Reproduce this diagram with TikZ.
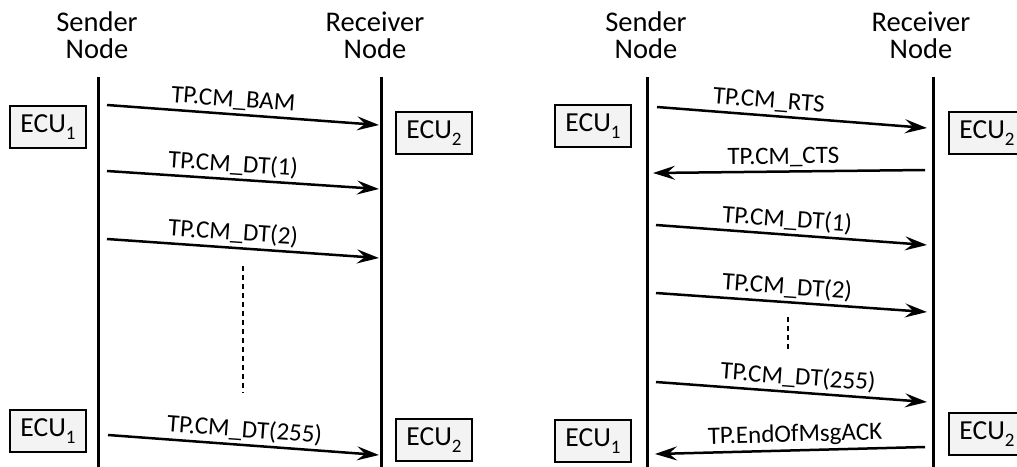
\documentclass[tikz,border=0pt]{standalone}
\usepackage{fontspec}
\setmainfont{Carlito}
\usetikzlibrary{arrows.meta}
\definecolor{ecufill}{HTML}{F3F3F3}
\newcommand{\ecusub}[1]{\raisebox{-0.28em}{\fontsize{19}{19}\selectfont #1}}
\tikzset{
  lifeline/.style={line width=3pt},
  msg/.style={line width=2.5pt, -{Stealth[length=22pt,width=14pt,inset=8pt]}},
  msglabel/.style={font=\fontsize{25}{26}\selectfont, sloped, above, inner sep=3pt},
  ecubox/.style={draw, line width=1.4pt, fill=ecufill, minimum width=76pt, minimum height=42pt, inner sep=0pt, font=\fontsize{27.5}{28}\selectfont},
  header/.style={font=\fontsize{28.5}{27}\selectfont, align=center, anchor=north, inner sep=0pt},
  gapline/.style={line width=2.6pt, dash pattern=on 5pt off 4pt}
}
\begin{document}
\begin{tikzpicture}[x=1pt,y=-1pt]
\useasboundingbox (0,0) rectangle (1017,466);
\clip (0,0) rectangle (1017,466);

% ---------- left panel ----------
\node[header] (lsend) at (97,12) {Sender\\Node};
\node[header] (lrecv) at (375,12) {Receiver\\Node};
\coordinate (lsTop) at (98,77);
\coordinate (lsBot) at (98,470);
\coordinate (lrTop) at (381,77);
\coordinate (lrBot) at (381,470);
\draw[lifeline] (lsTop) -- (lsBot);
\draw[lifeline] (lrTop) -- (lrBot);

\node[ecubox] (lecu1a) at (48,127) {ECU\ecusub{1}};
\node[ecubox] (lecu1b) at (48,431) {ECU\ecusub{1}};
\node[ecubox] (lecu2a) at (434,133) {ECU\ecusub{2}};
\node[ecubox] (lecu2b) at (434,440) {ECU\ecusub{2}};

\coordinate (a1s) at (107,105); \coordinate (a1e) at (379,125);
\coordinate (a2s) at (107,171); \coordinate (a2e) at (379,189);
\coordinate (a3s) at (107,239); \coordinate (a3e) at (379,258);
\coordinate (a4s) at (108,435); \coordinate (a4e) at (379,455);
\draw[msg] (a1s) -- node[msglabel, pos=0.46] {TP.CM\_BAM} (a1e);
\draw[msg] (a2s) -- node[msglabel, pos=0.46] {TP.CM\_DT(1)} (a2e);
\draw[msg] (a3s) -- node[msglabel, pos=0.46] {TP.CM\_DT(2)} (a3e);
\draw[msg] (a4s) -- node[msglabel, pos=0.5] {TP.CM\_DT(255)} (a4e);
\coordinate (ldTop) at (243,266); \coordinate (ldBot) at (243,393);
\draw[gapline] (ldTop) -- (ldBot);

% ---------- right panel ----------
\node[header] (rsend) at (646,12) {Sender\\Node};
\node[header] (rrecv) at (921,12) {Receiver\\Node};
\coordinate (rsTop) at (647,77);
\coordinate (rsBot) at (647,470);
\coordinate (rrTop) at (933,77);
\coordinate (rrBot) at (933,470);
\draw[lifeline] (rsTop) -- (rsBot);
\draw[lifeline] (rrTop) -- (rrBot);

\node[ecubox] (recu1a) at (593,126) {ECU\ecusub{1}};
\node[ecubox] (recu1b) at (593,441) {ECU\ecusub{1}};
\node[ecubox] (recu2a) at (987,133) {ECU\ecusub{2}};
\node[ecubox] (recu2b) at (987,434) {ECU\ecusub{2}};

\coordinate (b1s) at (657,107); \coordinate (b1e) at (927,128);
\coordinate (b2s) at (925,170); \coordinate (b2e) at (653,173);
\coordinate (b3s) at (656,225); \coordinate (b3e) at (927,245);
\coordinate (b4s) at (656,293); \coordinate (b4e) at (927,312);
\coordinate (b5s) at (656,382); \coordinate (b5e) at (927,402);
\coordinate (b6s) at (925,447); \coordinate (b6e) at (655,454);
\draw[msg] (b1s) -- node[msglabel, pos=0.41] {TP.CM\_RTS} (b1e);
\draw[msg] (b2s) -- node[msglabel, pos=0.52] {TP.CM\_CTS} (b2e);
\draw[msg] (b3s) -- node[msglabel, pos=0.48] {TP.CM\_DT(1)} (b3e);
\draw[msg] (b4s) -- node[msglabel, pos=0.48] {TP.CM\_DT(2)} (b4e);
\draw[msg] (b5s) -- node[msglabel, pos=0.52] {TP.CM\_DT(255)} (b5e);
\draw[msg] (b6s) -- node[msglabel, pos=0.48] {TP.EndOfMsgACK} (b6e);
\coordinate (rdTop) at (788,317); \coordinate (rdBot) at (788,350);
\draw[gapline] (rdTop) -- (rdBot);
\end{tikzpicture}
\end{document}
